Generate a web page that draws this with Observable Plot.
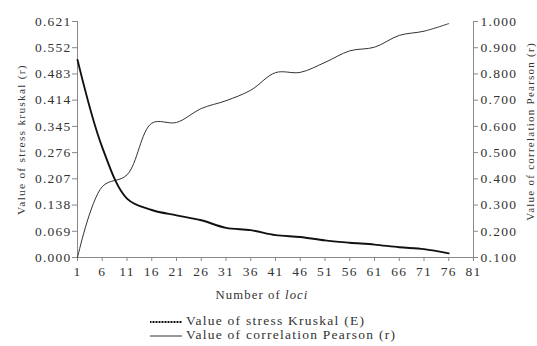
<!DOCTYPE html>
<html><head><meta charset="utf-8">
<script src="https://cdn.jsdelivr.net/npm/d3@7"></script>
<script src="https://cdn.jsdelivr.net/npm/@observablehq/plot@0.6"></script>
<style>
body{margin:0;background:#fff;}
#chart{position:relative;width:537px;height:346px;font-family:'Liberation Serif',serif;color:#333;font-size:13.5px;letter-spacing:1.25px;}
#chart svg{position:absolute;left:0;top:0;overflow:visible;}
.xl{position:absolute;top:288px;left:162px;width:200px;text-align:center;font-size:12.7px;letter-spacing:1.1px;}
.lg{position:absolute;left:150px;white-space:nowrap;line-height:14px;}
.lg svg{position:static !important;vertical-align:middle;margin-right:4px;}
</style></head><body><div id="chart"></div>
<script>
const loci = [1, 6, 11, 16, 21, 26, 31, 36, 41, 46, 51, 56, 61, 66, 71, 76];
const stress = [0.520, 0.290, 0.155, 0.125, 0.111, 0.098, 0.078, 0.072, 0.059, 0.054, 0.045, 0.039, 0.034, 0.027, 0.022, 0.011];
const pearson = [0.100, 0.370, 0.415, 0.612, 0.615, 0.668, 0.698, 0.738, 0.805, 0.806, 0.844, 0.888, 0.902, 0.947, 0.963, 0.992];
const leftTicks = [0, 0.069, 0.138, 0.207, 0.276, 0.345, 0.414, 0.483, 0.552, 0.621];
const rightTicks = ["0.100", "0.200", "0.300", "0.400", "0.500", "0.600", "0.700", "0.800", "0.900", "1.000"];
const xTicks = [1, 6, 11, 16, 21, 26, 31, 36, 41, 46, 51, 56, 61, 66, 71, 76, 81];
const seriesNames = ["Value of stress Kruskal (E)", "Value of correlation Pearson (r)"];
const yLabelLeft = "Value of stress kruskal (r)";
const yLabelRight = "Value of correlation Pearson (r)";

const LMAX = 0.621, RMIN = 0.1, RMAX = 1.0;
const toLeft = r => (r - RMIN) / (RMAX - RMIN) * LMAX;

const sData = loci.map((x, i) => ({x, y: stress[i]}));
const pData = loci.map((x, i) => ({x, y: toLeft(pearson[i])}));

const axisColor = "#888";
const textColor = "#333";
const F = "Liberation Serif";

const plot = Plot.plot({
  width: 537,
  height: 310,
  marginTop: 21,
  marginBottom: 53,
  marginLeft: 77,
  marginRight: 64,
  style: {fontFamily: "'Liberation Serif', serif", fontSize: "13.5px", color: textColor, letterSpacing: "1.25px", background: "#fff", overflow: "visible"},
  x: {domain: [1, 81]},
  y: {domain: [0, LMAX]},
  marks: [
    Plot.ruleY([0], {stroke: axisColor}),
    Plot.ruleX([1], {stroke: axisColor}),
    Plot.ruleX([81], {stroke: axisColor}),
    Plot.axisX({ticks: xTicks, tickSize: 4, tickPadding: 5, stroke: axisColor, fill: textColor, label: null, fontFamily: F}),
    Plot.axisY({ticks: leftTicks, tickFormat: d3.format(".3f"), tickSize: 5, tickPadding: 1, stroke: axisColor, fill: textColor, label: null, fontFamily: F}),
    Plot.axisY({anchor: "right", ticks: leftTicks, tickFormat: d => rightTicks[Math.round(d / 0.069)], tickSize: 4, tickPadding: 3, stroke: axisColor, fill: textColor, label: null, fontFamily: F}),
    Plot.text([yLabelLeft], {frameAnchor: "left", textAnchor: "middle", dx: -56, rotate: -90, fill: textColor, fontFamily: F, fontSize: 11.4}),
    Plot.text([yLabelRight], {frameAnchor: "right", textAnchor: "middle", dx: 57, dy: -8, rotate: -90, fill: textColor, fontFamily: F, fontSize: 11}),
    Plot.line(pData, {x: "x", y: "y", curve: "catmull-rom", stroke: "#333", strokeWidth: 1}),
    Plot.line(sData, {x: "x", y: "y", curve: "catmull-rom", stroke: "#111", strokeWidth: 1.9})
  ]
});
const chart = document.getElementById("chart");
chart.appendChild(plot);

const xl = document.createElement("div");
xl.className = "xl";
xl.innerHTML = "Number of <i>loci</i>";
chart.appendChild(xl);

const styles = [{w: 2, c: "#111", dash: "1,0.5"}, {w: 1, c: "#333", dash: null}];
seriesNames.forEach((name, i) => {
  const d = document.createElement("div");
  d.className = "lg";
  d.style.top = (314 + i * 14) + "px";
  const s = styles[i];
  d.innerHTML = `<svg width="32" height="6"><line x1="0" x2="32" y1="3" y2="3" stroke="${s.c}" stroke-width="${s.w}"${s.dash ? ` stroke-dasharray="${s.dash}"` : ""}/></svg>`;
  d.appendChild(document.createTextNode(name));
  chart.appendChild(d);
});
</script></body></html>
